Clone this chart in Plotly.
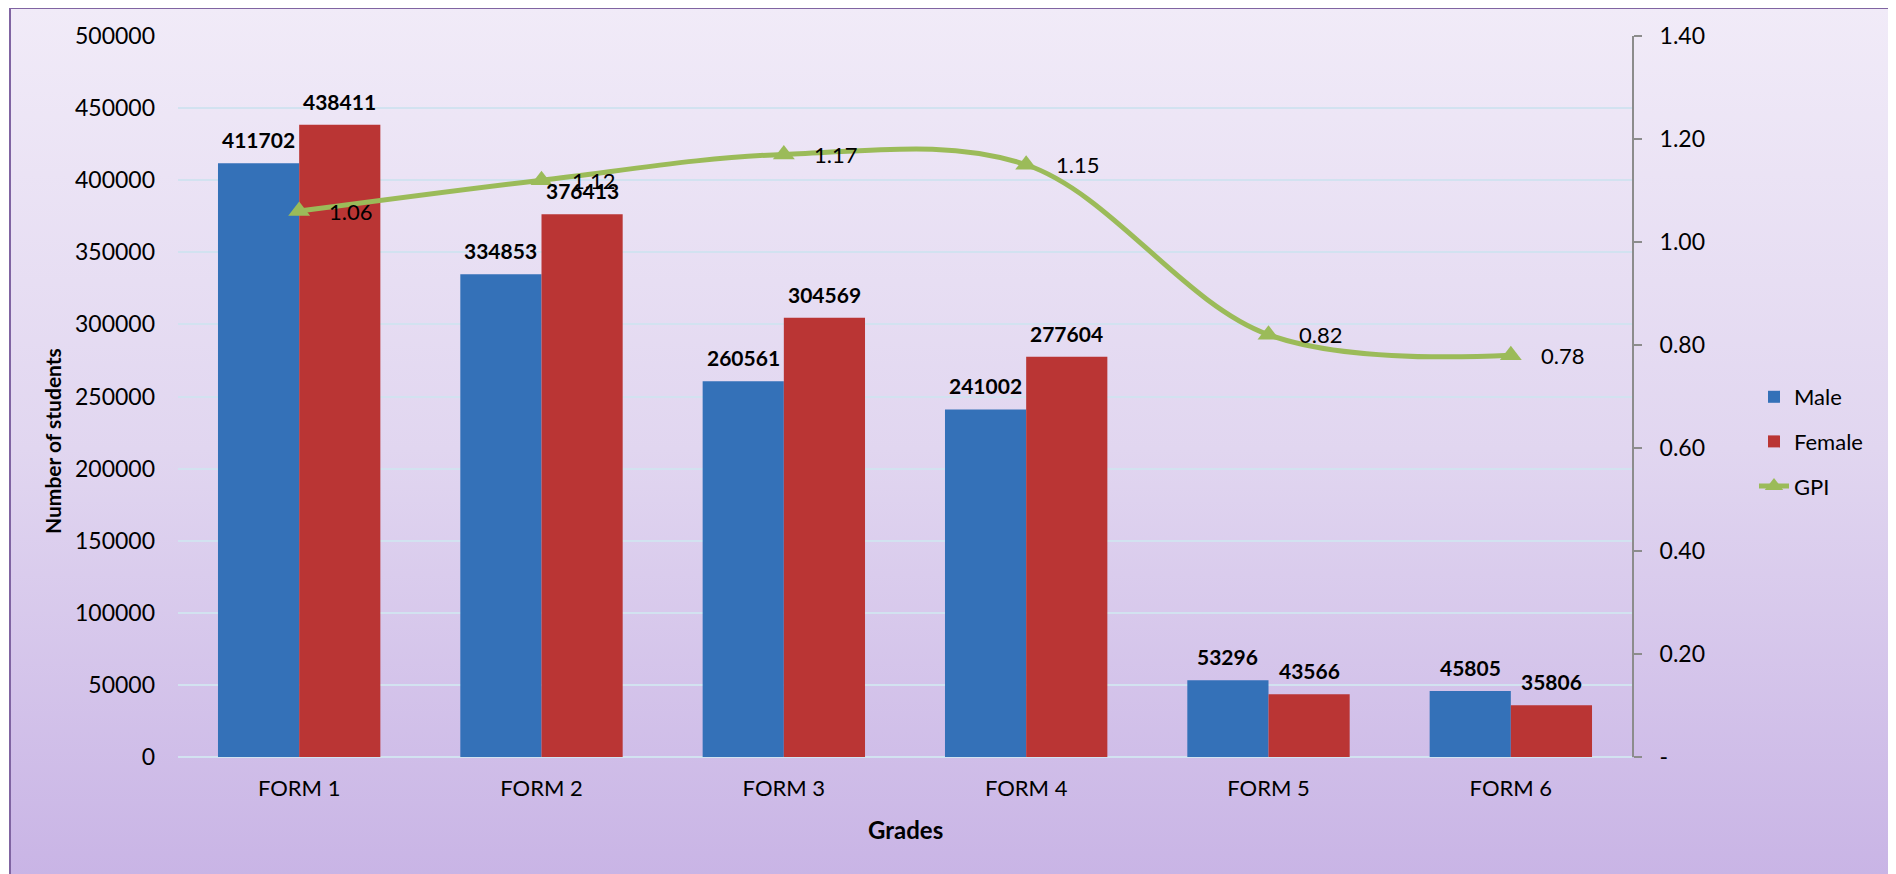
import base64
import plotly.graph_objects as go

grades = ["FORM 1", "FORM 2", "FORM 3", "FORM 4", "FORM 5", "FORM 6"]
male = [411702, 334853, 260561, 241002, 53296, 45805]
female = [438411, 376413, 304569, 277604, 43566, 35806]
gpi = [1.06, 1.12, 1.17, 1.15, 0.82, 0.78]
gpi_labels = ["1.06", "1.12", "1.17", "1.15", "0.82", "0.78"]
right_tickvals = [0, 0.2, 0.4, 0.6, 0.8, 1.0, 1.2, 1.4]
right_ticktext = ["-", "0.20", "0.40", "0.60", "0.80", "1.00", "1.20", "1.40"]

W, H = 1896, 874
OFF = 8  # page body margin
L, R, T, B = 178 - OFF, 1632 - OFF, 36 - OFF, 757 - OFF
pw, ph = R - L, B - T

def px_x(x):
    return (x - OFF - L) / pw

def px_y(y):
    return (B - (y - OFF)) / ph

FONT = "Lato"
BARGAP = 0.33
half_bar = pw / len(grades) * (1 - BARGAP) / 4

svg = (
    '<svg xmlns="http://www.w3.org/2000/svg" width="100" height="100" preserveAspectRatio="none">'
    '<defs><linearGradient id="g" x1="0" y1="0" x2="0" y2="1">'
    '<stop offset="0" stop-color="#F1EBF8"/>'
    '<stop offset="0.5" stop-color="#E1D6F0"/>'
    '<stop offset="1" stop-color="#C8B3E5"/>'
    '</linearGradient></defs>'
    '<rect x="0" y="0" width="100" height="100" fill="url(#g)"/></svg>'
)
svg_uri = "data:image/svg+xml;base64," + base64.b64encode(svg.encode()).decode()

fig = go.Figure()

fig.add_trace(go.Bar(
    x=grades, y=male, name="Male",
    marker=dict(color="#3471B8", line=dict(width=0)),
    legendgroup="m",
))
fig.add_trace(go.Bar(
    x=grades, y=female, name="Female",
    marker=dict(color="#BA3534", line=dict(width=0)),
    legendgroup="f",
))
fig.add_trace(go.Scatter(
    x=grades, y=gpi, name="GPI", yaxis="y2",
    mode="lines+markers",
    line=dict(color="#9BBB59", width=5, shape="spline", smoothing=1.0),
    marker=dict(symbol="triangle-up", size=19, color="#9BBB59"),
    cliponaxis=False, legendgroup="g",
))

annotations = []
for g, v in zip(grades, male):
    annotations.append(dict(
        x=g, y=v, xref="x", yref="y", text=f"<b>{v}</b>", showarrow=False,
        xanchor="center", yanchor="bottom", xshift=-half_bar, yshift=9,
        font=dict(family=FONT, size=21, color="black"),
    ))
for g, v in zip(grades, female):
    annotations.append(dict(
        x=g, y=v, xref="x", yref="y", text=f"<b>{v}</b>", showarrow=False,
        xanchor="center", yanchor="bottom", xshift=half_bar, yshift=9,
        font=dict(family=FONT, size=21, color="black"),
    ))
for g, v, t in zip(grades, gpi, gpi_labels):
    annotations.append(dict(
        x=g, y=v, xref="x", yref="y2", text=t, showarrow=False,
        xanchor="left", yanchor="middle", xshift=28,
        font=dict(family=FONT, size=22, color="black"),
    ))
annotations += [
    dict(text="<b>Number of students</b>", xref="paper", yref="paper",
         x=px_x(52), y=px_y(441), textangle=-90, showarrow=False,
         font=dict(family=FONT, size=21), xanchor="center", yanchor="middle"),
    dict(text="<b>Grades</b>", xref="paper", yref="paper",
         x=px_x(905), y=px_y(829), showarrow=False,
         font=dict(family=FONT, size=24), xanchor="center", yanchor="middle"),
]

fig.update_layout(
    width=W, height=H,
    margin=dict(l=L, r=W - R, t=T, b=H - B),
    paper_bgcolor="white",
    plot_bgcolor="rgba(0,0,0,0)",
    font=dict(family=FONT, size=22, color="black"),
    barmode="group",
    bargap=BARGAP,
    bargroupgap=0,
    showlegend=True,
    legend=dict(
        x=px_x(1754), y=px_y(376), xanchor="left", yanchor="top",
        bgcolor="rgba(0,0,0,0)", font=dict(family=FONT, size=22),
        tracegroupgap=13, traceorder="grouped",
    ),
    xaxis=dict(
        showgrid=False, showline=False, ticks="", zeroline=False,
        tickfont=dict(family=FONT, size=22), ticklabelstandoff=16,
    ),
    yaxis=dict(
        range=[0, 500000], dtick=50000, tickformat="d",
        showgrid=True, gridcolor="#D2E2F0", gridwidth=2,
        zeroline=True, zerolinecolor="#D2E2F0", zerolinewidth=2,
        showline=False, ticks="",
        tickfont=dict(family=FONT, size=23), ticklabelstandoff=22,
    ),
    yaxis2=dict(
        overlaying="y", side="right", range=[0, 1.4],
        tickvals=right_tickvals, ticktext=right_ticktext,
        showgrid=False, zeroline=False,
        showline=True, linecolor="#8C8C8C", linewidth=2,
        ticks="outside", ticklen=8, tickcolor="#8C8C8C", tickwidth=2,
        tickfont=dict(family=FONT, size=23), ticklabelstandoff=13,
    ),
    images=[dict(
        source=svg_uri, xref="paper", yref="paper",
        x=px_x(10), y=px_y(7), sizex=(W - 10) / pw, sizey=(H + 10) / ph,
        xanchor="left", yanchor="top", sizing="stretch", layer="below",
    )],
    shapes=[dict(
        type="rect", xref="paper", yref="paper",
        x0=px_x(10), x1=px_x(1895), y0=px_y(890), y1=px_y(8),
        line=dict(color="#8064A2", width=2), fillcolor="rgba(0,0,0,0)",
        layer="above",
    )],
    annotations=annotations,
)

fig.write_html("out.html")
